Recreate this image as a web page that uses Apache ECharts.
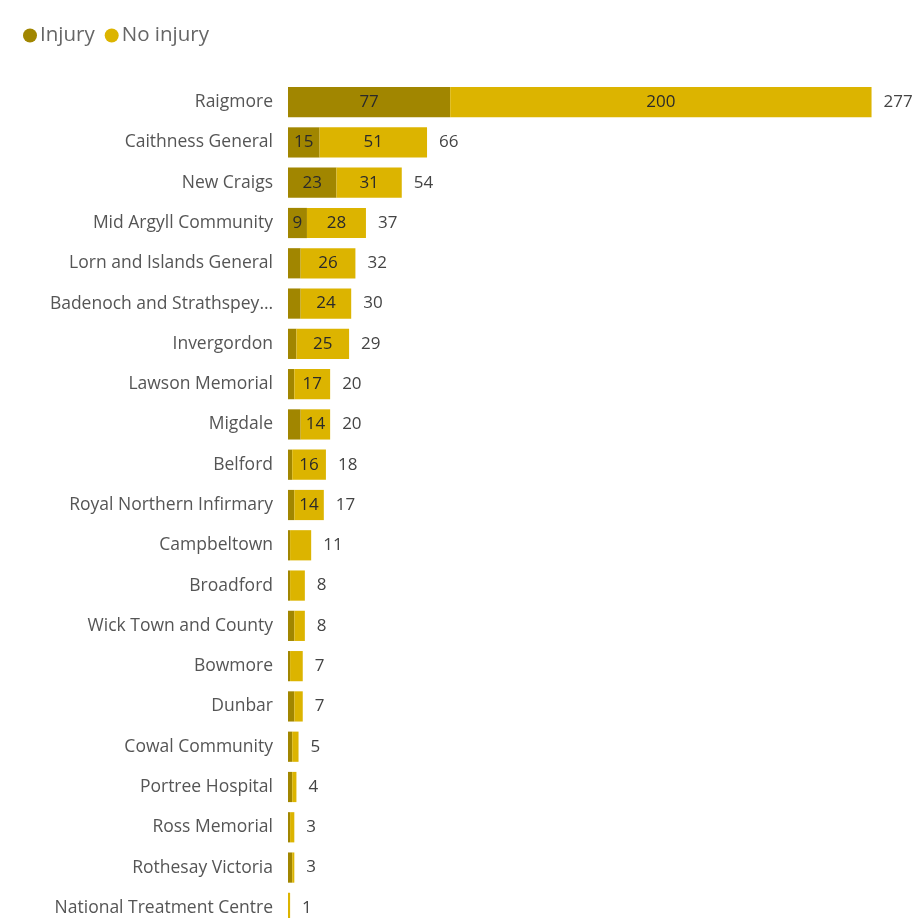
<!DOCTYPE html>
<html>
<head>
<meta charset="utf-8">
<script src="https://cdn.jsdelivr.net/npm/echarts@6/dist/echarts.min.js"></script>
<style>
  html, body { margin: 0; padding: 0; background: #ffffff; overflow: hidden; }
  #chart { width: 924px; height: 940px; }
</style>
</head>
<body>
<div id="chart"></div>
<script>
// Hospitals, in display order (largest total first)
const hospitals = [
  'Raigmore', 'Caithness General', 'New Craigs', 'Mid Argyll Community',
  'Lorn and Islands General', 'Badenoch and Strathspey Community', 'Invergordon',
  'Lawson Memorial', 'Migdale', 'Belford', 'Royal Northern Infirmary',
  'Campbeltown', 'Broadford', 'Wick Town and County', 'Bowmore', 'Dunbar',
  'Cowal Community', 'Portree Hospital', 'Ross Memorial', 'Rothesay Victoria',
  'National Treatment Centre'
];
// Incidents resulting in injury
const injury = [77, 15, 23, 9, 6, 6, 4, 3, 6, 2, 3, 1, 1, 3, 1, 3, 2, 2, 1, 2, 0];
// Incidents with no injury
const noInjury = [200, 51, 31, 28, 26, 24, 25, 17, 14, 16, 14, 10, 7, 5, 6, 4, 3, 2, 2, 1, 1];

const totals = hospitals.map((_, i) => injury[i] + noInjury[i]);

const darkGold = '#a18600';
const gold = '#dcb400';
const font = '"Open Sans", "Noto Sans", sans-serif';

// Long hospital names are shortened with an ellipsis
function shortName(name) {
  return name.length > 25 ? name.slice(0, 23).trimEnd() + '…' : name;
}

// Segment labels are only drawn where the number fits inside the segment
function segData(values, minShown) {
  return values.map(v => ({
    value: v,
    label: { show: v >= minShown }
  }));
}

const chart = echarts.init(document.getElementById('chart'), null, { renderer: 'canvas' });
chart.setOption({
  animation: false,
  textStyle: { fontFamily: font },
  legend: {
    left: 18,
    top: 20,
    icon: 'circle',
    itemWidth: 14,
    itemHeight: 14,
    itemGap: 10,
    textStyle: { color: '#666', fontSize: 20.5, fontFamily: font, padding: [0, 0, 0, -2] },
    data: ['Injury', 'No injury']
  },
  grid: { left: 288, top: 82, width: 632, height: 846, containLabel: false },
  xAxis: {
    type: 'value',
    min: 0,
    max: 300,
    show: false
  },
  yAxis: {
    type: 'category',
    inverse: true,
    data: hospitals,
    axisLine: { show: false },
    axisTick: { show: false },
    axisLabel: {
      margin: 15,
      color: '#555',
      fontSize: 17.5,
      fontFamily: font,
      formatter: shortName
    }
  },
  series: [
    {
      name: 'Injury',
      type: 'bar',
      stack: 'incidents',
      barCategoryGap: '25%',
      itemStyle: { color: darkGold },
      label: { position: 'inside', color: '#2a2a2a', fontSize: 17, fontFamily: font },
      data: segData(injury, 9)
    },
    {
      name: 'No injury',
      type: 'bar',
      stack: 'incidents',
      itemStyle: { color: gold },
      label: { position: 'inside', color: '#2a2a2a', fontSize: 17, fontFamily: font },
      data: segData(noInjury, 14)
    },
    {
      // Invisible full-length bars that carry the total label at the bar end
      name: 'Total',
      type: 'bar',
      barGap: '-100%',
      silent: true,
      itemStyle: { color: 'rgba(0,0,0,0)' },
      label: {
        show: true,
        position: 'right',
        distance: 12,
        color: '#444',
        fontSize: 17,
        fontFamily: font
      },
      data: totals
    }
  ]
});
</script>
</body>
</html>
